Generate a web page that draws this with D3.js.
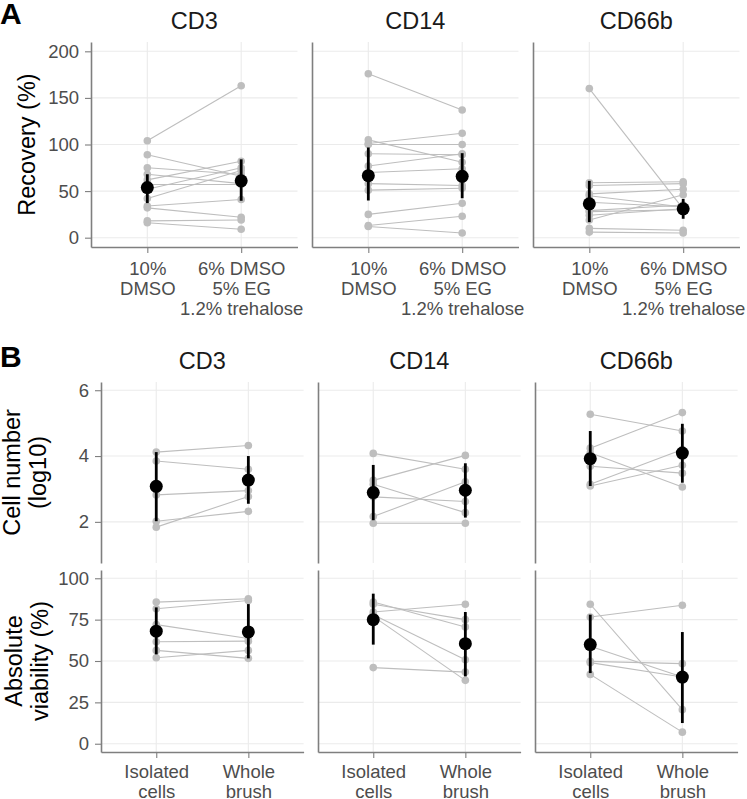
<!DOCTYPE html>
<html><head><meta charset="utf-8">
<script src="https://cdn.jsdelivr.net/npm/d3@7"></script>
<style>
body{margin:0;background:#fff}
text{font-family:"Liberation Sans",Arial,sans-serif}
</style>
</head><body><svg id="chart" width="747" height="799"></svg>
<script>
// ---------- labels ----------
const facets = ["CD3", "CD14", "CD66b"];
const treatments = ["10%\nDMSO", "6% DMSO\n5% EG\n1.2% trehalose"];
const sources = ["Isolated\ncells", "Whole\nbrush"];
const recoveryTicks = [0, 50, 100, 150, 200];
const cellTicks = [2, 4, 6];
const viabilityTicks = [0, 25, 50, 75, 100];

// ---------- Panel A: recovery (%) paired per donor ----------
const recCD3_dmso10   = [104, 89, 75, 68, 62, 57, 52, 42, 34, 32, 18, 16];
const recCD3_mix      = [163, 66, 68, 58, 82, 57, 75, 72, 41, 22, 19, 9];
const recCD14_dmso10  = [176, 105, 101, 100, 90, 77, 70, 58, 51, 25, 13, 12];
const recCD14_mix     = [137, 81, 112, 100, 89, 90, 74, 56, 53, 37, 23, 5];
const recCD66b_dmso10 = [160, 59, 56, 47, 45, 38, 29, 28, 24, 19, 10, 6];
const recCD66b_mix    = [31, 60, 58, 52, 33, 33, 35, 30, 31, 46, 8, 5];
// summary (mean, lower, upper) per facet, per treatment
const recMean_dmso10 = [53.8, 66.5, 36.3];
const recLo_dmso10   = [37.1, 39.9, 16.7];
const recHi_dmso10   = [68.1, 96.8, 61.0];
const recMean_mix    = [61.0, 65.8, 31.0];
const recLo_mix      = [39.6, 42.3, 20.3];
const recHi_mix      = [84.1, 90.7, 41.6];

// ---------- Panel B: cell number (log10) ----------
const cellCD3_iso    = [4.12, 3.85, 2.82, 2.02, 1.84];
const cellCD3_whole  = [4.32, 3.60, 2.95, 2.32, 2.77];
const cellCD14_iso   = [4.08, 3.26, 3.14, 2.76, 2.16, 1.96];
const cellCD14_whole = [3.60, 4.02, 2.28, 2.62, 3.22, 1.96];
const cellCD66b_iso  = [5.27, 4.24, 4.10, 3.69, 3.14, 3.09];
const cellCD66b_whole= [4.76, 5.32, 3.06, 3.48, 4.20, 3.72];
const cellMean_iso   = [3.08, 2.89, 3.92];
const cellLo_iso     = [2.02, 2.05, 3.09];
const cellHi_iso     = [4.12, 3.73, 4.76];
const cellMean_whole = [3.27, 2.96, 4.09];
const cellLo_whole   = [2.55, 2.13, 3.19];
const cellHi_whole   = [4.00, 3.78, 4.98];

// ---------- Panel B: absolute viability (%) ----------
const viaCD3_iso     = [85.6, 81.6, 72.0, 61.6, 56.4, 52.0];
const viaCD3_whole   = [87.6, 86.6, 63.6, 62.0, 51.6, 56.4];
const viaCD14_iso    = [85.7, 84.3, 79.6, 78.0, 77.0, 46.0];
const viaCD14_whole  = [70.6, 75.0, 84.3, 50.8, 38.3, 43.3];
const viaCD66b_iso   = [84.3, 76.6, 58.9, 49.8, 49.0, 41.9];
const viaCD66b_whole = [20.6, 83.7, 40.3, 48.4, 40.3, 7.0];
const viaMean_iso    = [68.0, 75.0, 59.9];
const viaLo_iso      = [54.0, 59.9, 42.7];
const viaHi_iso      = [82.4, 90.7, 78.0];
const viaMean_whole  = [67.6, 60.5, 40.3];
const viaLo_whole    = [51.6, 40.7, 12.5];
const viaHi_whole    = [84.4, 79.6, 67.5];

// ---------- drawing ----------
const svg = d3.select("#chart");
const FONT = '"Liberation Sans", Arial, sans-serif';
const AXIS = "#7f7f7f", GRID = "#ebebeb", PT = "#bebebe";
const TICKFS = 18.5, TITLEFS = 23.5;

function drawFacet(o) {
  const g = svg.append("g").attr("transform", `translate(${o.x0},${o.y0})`);
  const x = d3.scalePoint().domain(o.cats).range([0, o.w]).padding(0.6);
  const y = d3.scaleLinear().domain(o.domain).range([o.h, 0]);

  g.append("g").selectAll("line").data(o.ticks).join("line")
    .attr("x1", 0).attr("x2", o.w).attr("y1", d => y(d)).attr("y2", d => y(d))
    .attr("stroke", GRID).attr("stroke-width", 1.1);
  g.append("g").selectAll("line").data(o.cats).join("line")
    .attr("x1", d => x(d)).attr("x2", d => x(d)).attr("y1", 0).attr("y2", o.h)
    .attr("stroke", GRID).attr("stroke-width", 1.1);

  const ya = d3.axisLeft(y).tickValues(o.ticks).tickSizeOuter(0)
    .tickSizeInner(6).tickPadding(6).tickFormat(d3.format("d"));
  const yg = g.append("g").call(ya).attr("font-family", FONT).attr("font-size", TICKFS);
  yg.select(".domain").attr("stroke", AXIS).attr("stroke-width", 1.6);
  yg.selectAll(".tick line").attr("stroke", AXIS).attr("stroke-width", 1.1);
  yg.selectAll(".tick text").attr("fill", "#4d4d4d");
  if (!o.yLabels) yg.selectAll(".tick").remove();

  if (o.showX) {
    const xa = d3.axisBottom(x).tickSizeOuter(0).tickSizeInner(6);
    const xg = g.append("g").attr("transform", `translate(0,${o.h})`).call(xa)
      .attr("font-family", FONT).attr("font-size", TICKFS);
    xg.select(".domain").attr("stroke", AXIS).attr("stroke-width", 1.6);
    xg.selectAll(".tick line").attr("stroke", AXIS).attr("stroke-width", 1.1);
    xg.selectAll(".tick text").each(function (d) {
      const t = d3.select(this).attr("fill", "#4d4d4d").attr("y", o.labelY).attr("dy", null).text(null);
      d.split("\n").forEach((s, i) => t.append("tspan").attr("x", 0).attr("dy", i === 0 ? 0 : 20).text(s));
    });
  }

  const pairs = o.a.map((v, i) => [v, o.b[i]]);
  g.append("g").selectAll("line").data(pairs).join("line")
    .attr("x1", x(o.cats[0])).attr("x2", x(o.cats[1]))
    .attr("y1", d => y(d[0])).attr("y2", d => y(d[1]))
    .attr("stroke", PT).attr("stroke-width", 1.1);
  const pts = o.a.map(v => [o.cats[0], v]).concat(o.b.map(v => [o.cats[1], v]));
  g.append("g").selectAll("circle").data(pts).join("circle")
    .attr("cx", d => x(d[0])).attr("cy", d => y(d[1])).attr("r", 3.8).attr("fill", PT);

  const sum = o.cats.map((c, i) => ({ c, m: o.mean[i], lo: o.lo[i], hi: o.hi[i] }));
  g.append("g").selectAll("line").data(sum).join("line")
    .attr("x1", d => x(d.c)).attr("x2", d => x(d.c)).attr("y1", d => y(d.lo)).attr("y2", d => y(d.hi))
    .attr("stroke", "#000").attr("stroke-width", 2.8);
  g.append("g").selectAll("circle").data(sum).join("circle")
    .attr("cx", d => x(d.c)).attr("cy", d => y(d.m)).attr("r", 6.5).attr("fill", "#000");
}

// Panel A
const recA = [recCD3_dmso10, recCD14_dmso10, recCD66b_dmso10];
const recB = [recCD3_mix, recCD14_mix, recCD66b_mix];
const xA = [91, 312, 533], wA = 206.5;
facets.forEach((f, i) => drawFacet({
  x0: xA[i], y0: 42, w: wA, h: 205, domain: [-10, 210], ticks: recoveryTicks,
  cats: treatments, yLabels: i === 0, showX: true, labelY: 28, a: recA[i], b: recB[i],
  mean: [recMean_dmso10[i], recMean_mix[i]], lo: [recLo_dmso10[i], recLo_mix[i]], hi: [recHi_dmso10[i], recHi_mix[i]]
}));

// Panel B
const cellA = [cellCD3_iso, cellCD14_iso, cellCD66b_iso];
const cellB = [cellCD3_whole, cellCD14_whole, cellCD66b_whole];
const viaA = [viaCD3_iso, viaCD14_iso, viaCD66b_iso];
const viaB = [viaCD3_whole, viaCD14_whole, viaCD66b_whole];
const xB = [101, 318, 535], wB = 202.6;
facets.forEach((f, i) => {
  drawFacet({
    x0: xB[i], y0: 382, w: wB, h: 181, domain: [0.75, 6.25], ticks: cellTicks,
    cats: sources, yLabels: i === 0, showX: false, a: cellA[i], b: cellB[i],
    mean: [cellMean_iso[i], cellMean_whole[i]], lo: [cellLo_iso[i], cellLo_whole[i]], hi: [cellHi_iso[i], cellHi_whole[i]]
  });
  drawFacet({
    x0: xB[i], y0: 570, w: wB, h: 182, domain: [-5, 105], ticks: viabilityTicks,
    cats: sources, yLabels: i === 0, showX: true, labelY: 26, a: viaA[i], b: viaB[i],
    mean: [viaMean_iso[i], viaMean_whole[i]], lo: [viaLo_iso[i], viaLo_whole[i]], hi: [viaHi_iso[i], viaHi_whole[i]]
  });
});

// facet titles
facets.forEach((f, i) => {
  svg.append("text").attr("x", xA[i] + wA / 2).attr("y", 28.5).attr("text-anchor", "middle")
    .attr("font-size", TITLEFS).attr("fill", "#1a1a1a").text(f);
  svg.append("text").attr("x", xB[i] + wB / 2).attr("y", 368.5).attr("text-anchor", "middle")
    .attr("font-size", TITLEFS).attr("fill", "#1a1a1a").text(f);
});

// panel letters
svg.append("text").attr("x", 0).attr("y", 24).attr("font-size", 30).attr("font-weight", "bold").text("A");
svg.append("text").attr("x", 0).attr("y", 367).attr("font-size", 30).attr("font-weight", "bold").text("B");

// axis titles
function yTitle(x, yc, lines) {
  const t = svg.append("text").attr("transform", `translate(${x},${yc}) rotate(-90)`)
    .attr("text-anchor", "middle").attr("font-size", TITLEFS).attr("fill", "#000");
  lines.forEach((s, i) => t.append("tspan").attr("x", 0).attr("dy", i === 0 ? 0 : 26).text(s));
}
yTitle(35, 144.5, ["Recovery (%)"]);
yTitle(20, 472.5, ["Cell number", "(log10)"]);
yTitle(22, 661, ["Absolute", "viability (%)"]);
</script>
</body></html>
